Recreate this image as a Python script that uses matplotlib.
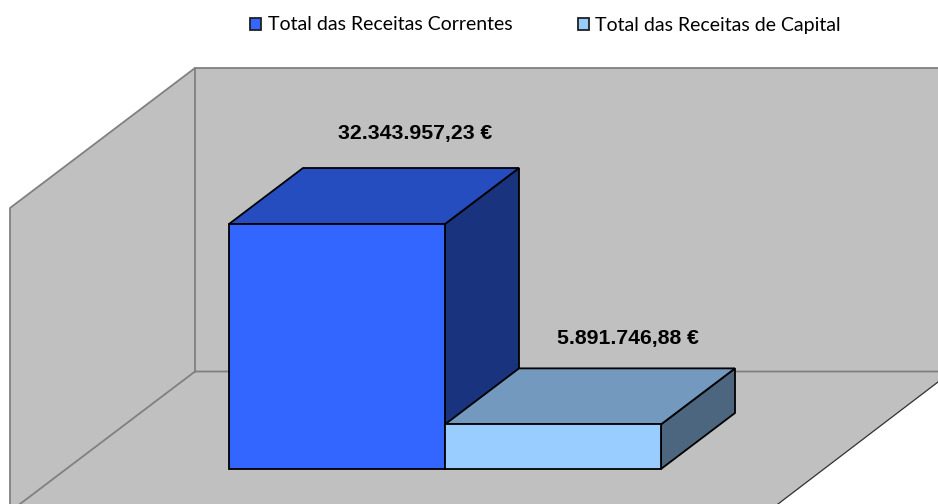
import matplotlib
matplotlib.use('Agg')
import matplotlib.pyplot as plt
from matplotlib.patches import Polygon, Patch

categories = ['Total das Receitas Correntes', 'Total das Receitas de Capital']
values = [32343957.23, 5891746.88]
labels = ['32.343.957,23 €', '5.891.746,88 €']
front_colors = ['#3366FF', '#99CCFF']
top_colors = ['#264DBF', '#7399BF']
side_colors = ['#1A337F', '#4D667F']

W, H = 938, 504
fig = plt.figure(figsize=(W / 100, H / 100), dpi=100, facecolor='white')

# walls and floor, in pixels of the picture
bg = fig.add_axes([0, 0, 1, 1])
bg.set_xlim(0, W)
bg.set_ylim(H, 0)
bg.axis('off')
wall = '#C0C0C0'
edge = '#808080'
bg.add_patch(Polygon([(195, 371.5), (938, 371.5), (938, 382), (778, 504), (20, 504)], fc=wall, ec='none'))
bg.add_patch(Polygon([(10, 208), (195, 68), (195, 371.5), (20, 504), (10, 504)], fc=wall, ec='none'))
bg.add_patch(Polygon([(195, 68), (938, 68), (938, 371.5), (195, 371.5)], fc=wall, ec='none'))
bg.plot([10, 10, 195, 938], [504, 208, 68, 68], color=edge, lw=1.3)
bg.plot([195, 195], [68, 371.5], color=edge, lw=1.3)
bg.plot([20, 195, 938], [504, 371.5, 371.5], color=edge, lw=1.3)
bg.plot([938, 778], [382, 504], color='#303030', lw=0.9)

# bars: one category is 216 px wide, y is in euros
px_per_euro = 245 / values[0]
ax = fig.add_axes([0, 0, 1, 1])
ax.patch.set_alpha(0)
ax.axis('off')
ax.set_xlim(-229 / 216, (W - 229) / 216)
ax.set_ylim(-(H - 469) / px_per_euro, 469 / px_per_euro)

dx = 74 / 216
dy = 56 / px_per_euro

# label offset from the back edge of the bar top: px right of its centre, px above it
label_dx = [41, 38]
label_dy = [29, 24]

for i, v in enumerate(values):
    side = [(i + 1, 0), (i + 1 + dx, dy), (i + 1 + dx, v + dy), (i + 1, v)]
    top = [(i, v), (i + dx, v + dy), (i + 1 + dx, v + dy), (i + 1, v)]
    front = [(i, 0), (i + 1, 0), (i + 1, v), (i, v)]
    for pts, c in [(side, side_colors[i]), (top, top_colors[i]), (front, front_colors[i])]:
        ax.add_patch(Polygon(pts, closed=True, fc=c, ec='black', lw=1.3, joinstyle='miter'))
    ax.text(i + 0.5 + dx / 2 + label_dx[i] / 216, v + dy + label_dy[i] / px_per_euro, labels[i],
            ha='center', va='baseline', fontsize=15.35, fontweight='bold',
            family='Liberation Sans', color='black')

handles = [Patch(fc=front_colors[i], ec='#202020', lw=1.3) for i in range(2)]
ax.legend(handles, categories, ncol=2, loc='center', bbox_to_anchor=(545.5 / W, 1 - 25 / H),
          frameon=False, prop={'family': 'Lato', 'size': 14},
          handlelength=0.57, handleheight=0.57, handletextpad=0.33, columnspacing=3.35,
          borderpad=0, labelcolor='black')

fig.savefig('out.png', dpi=100)
